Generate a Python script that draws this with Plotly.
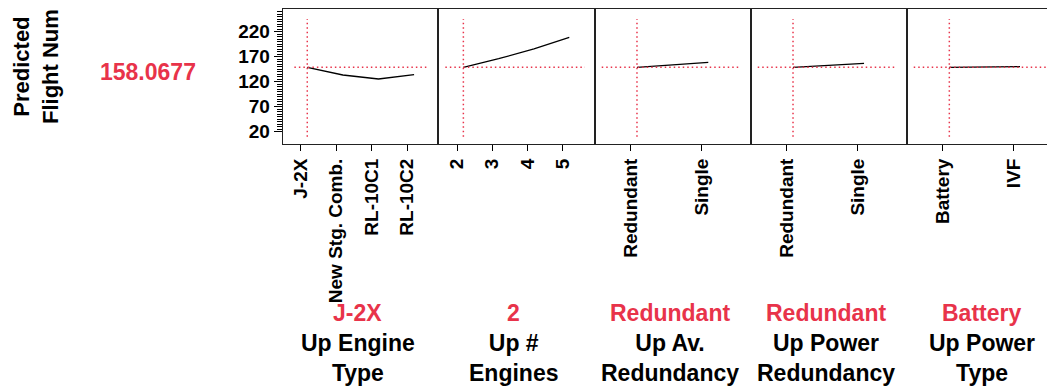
import plotly.graph_objects as go

# prediction profiler: one panel per factor
engine_types = ["J-2X", "New Stg. Comb.", "RL-10C1", "RL-10C2"]
engine_type_pred = [148.8, 133.4, 125.4, 134.0]
n_engines = [2, 3, 4, 5]
n_engines_pred = [148.8, 166.0, 185.5, 208.5]
av_redundancy = ["Redundant", "Single"]
av_redundancy_pred = [148.8, 158.8]
power_redundancy = ["Redundant", "Single"]
power_redundancy_pred = [148.8, 156.8]
power_type = ["Battery", "IVF"]
power_type_pred = [148.8, 150.0]

factor_names = ["Up Engine<br>Type", "Up #<br>Engines", "Up Av.<br>Redundancy",
                "Up Power<br>Redundancy", "Up Power<br>Type"]
current_levels = ["J-2X", "2", "Redundant", "Redundant", "Battery"]
current_pred = 148.8
pred_label = "158.0677"
response_name = "Predicted<br>Flight Num"
y_ticks = [20, 70, 120, 170, 220]

RED = "#e8334a"
FONT = "Liberation Sans, Arial, sans-serif"
W, H = 1055, 390
PAD = 8  # the page body adds an 8px margin, so lay out 8px up/left

# (x positions, tick labels, predictions, x range, tick offset)
panels = [
    (list(range(4)), engine_types, engine_type_pred, [-0.69, 3.68], -0.19),
    (n_engines, [str(v) for v in n_engines], n_engines_pred, [1.29, 5.72], -0.18),
    (list(range(2)), av_redundancy, av_redundancy_pred, [-0.593, 1.595], -0.09),
    (list(range(2)), power_redundancy, power_redundancy_pred, [-0.596, 1.601], -0.09),
    (list(range(2)), power_type, power_type_pred, [-0.603, 1.604], -0.09),
]
edges = [282.7, 438.3, 594.7, 750.7, 906.7, 1062.7]
ydom = [1 - (144 - PAD) / H, 1 - (9.3 - PAD) / H]

fig = go.Figure()
layout = {}
shapes = []
annotations = []

for i, (xs, labels, ys, rng, off) in enumerate(panels, start=1):
    sx = "" if i == 1 else str(i)
    fig.add_trace(go.Scatter(x=xs, y=ys, mode="lines", line=dict(color="black", width=1.3),
                             xaxis="x" + sx, yaxis="y" + sx, showlegend=False, hoverinfo="skip"))
    d0 = (edges[i - 1] - PAD) / W
    d1 = min((edges[i] - PAD) / W, 1.0)
    layout["xaxis" + sx] = dict(
        domain=[d0, d1], anchor="y" + sx, range=rng, showgrid=False, zeroline=False,
        automargin=False,
        tickmode="array", tickvals=[x + off for x in xs], ticktext=labels, tickangle=-90,
        ticks="outside", ticklen=6, tickcolor="black", tickwidth=1,
        tickfont=dict(family=FONT, size=19, color="black", weight="bold"),
        showline=True, mirror=True, linecolor="#222", linewidth=1,
    )
    ya = dict(domain=ydom, anchor="x" + sx, range=[-4.6, 264.8], showgrid=False, zeroline=False,
              automargin=False,
              showline=True, mirror=(i < 5), linecolor="#222", linewidth=1)
    if i == 1:
        ya.update(tickmode="array", tickvals=y_ticks, ticks="outside", ticklen=8,
                  tickcolor="black", tickwidth=1,
                  tickfont=dict(family=FONT, size=19, color="black", weight="bold"),
                  minor=dict(tickvals=list(range(20, 266, 5)), ticks="outside", ticklen=5,
                             tickcolor="black", tickwidth=1))
    else:
        ya.update(showticklabels=False, ticks="")
    layout["yaxis" + sx] = ya

    # current-value crosshair (current setting is the first level of every factor)
    x0 = 0.075 if i == 1 else 0.045
    x1 = 0.938
    shapes.append(dict(type="line", xref="x%s domain" % sx, yref="y" + sx, x0=x0, x1=x1,
                       y0=current_pred, y1=current_pred,
                       line=dict(color=RED, width=1.5, dash="1.5px,3px")))
    shapes.append(dict(type="line", xref="x" + sx, yref="y%s domain" % sx, x0=xs[0], x1=xs[0],
                       y0=0.054, y1=0.928, line=dict(color=RED, width=1.5, dash="1.5px,3px")))

    annotations.append(dict(xref="x%s domain" % sx, yref="paper", x=0.5, y=1 - (313 - PAD) / H,
                            text=current_levels[i - 1], showarrow=False, xanchor="center",
                            yanchor="middle", xshift=-3,
                            font=dict(family=FONT, size=23, color=RED, weight="bold")))
    annotations.append(dict(xref="x%s domain" % sx, yref="paper", x=0.5, y=1 - (358 - PAD) / H,
                            text=factor_names[i - 1], showarrow=False, xanchor="center",
                            yanchor="middle", xshift=-3,
                            font=dict(family=FONT, size=23, color="black", weight="bold")))

annotations.append(dict(xref="paper", yref="paper", x=(36 - PAD) / W, y=1 - (67 - PAD) / H,
                        text=response_name, textangle=-90, showarrow=False,
                        xanchor="center", yanchor="middle",
                        font=dict(family=FONT, size=22, color="black", weight="bold")))
annotations.append(dict(xref="paper", yref="paper", x=(148 - PAD) / W, y=1 - (72 - PAD) / H,
                        text=pred_label, showarrow=False, xanchor="center", yanchor="middle",
                        font=dict(family=FONT, size=23, color=RED, weight="bold")))

fig.update_layout(
    width=W, height=H, margin=dict(l=0, r=0, t=0, b=0),
    paper_bgcolor="white", plot_bgcolor="white",
    shapes=shapes, annotations=annotations, **layout,
)
fig.write_html("out.html")
